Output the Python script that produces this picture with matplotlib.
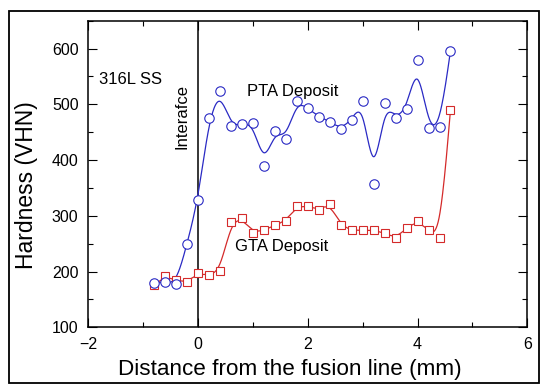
import numpy as np
import matplotlib
matplotlib.use("Agg")
import matplotlib.pyplot as plt
from matplotlib.patches import Rectangle
from matplotlib.ticker import MultipleLocator

plt.rcParams['font.family'] = ['Liberation Sans', 'DejaVu Sans']

# distance from fusion line (mm)
pta_x = [-0.8, -0.6, -0.4, -0.2, 0.0, 0.2, 0.4, 0.6, 0.8, 1.0, 1.2, 1.4, 1.6, 1.8,
         2.0, 2.2, 2.4, 2.6, 2.8, 3.0, 3.2, 3.4, 3.6, 3.8, 4.0, 4.2, 4.4, 4.6]
pta_hv = [180, 181, 178, 250, 328, 475, 524, 461, 464, 466, 390, 453, 438, 506,
          493, 478, 469, 456, 472, 506, 357, 502, 475, 491, 580, 457, 459, 596]

gta_x = [-0.8, -0.6, -0.4, -0.2, 0.0, 0.2, 0.4, 0.6, 0.8, 1.0, 1.2, 1.4, 1.6, 1.8,
         2.0, 2.2, 2.4, 2.6, 2.8, 3.0, 3.2, 3.4, 3.6, 3.8, 4.0, 4.2, 4.4, 4.6]
gta_hv = [175, 192, 184, 181, 197, 193, 201, 288, 296, 270, 274, 283, 291, 317,
          317, 311, 322, 283, 274, 274, 274, 269, 260, 278, 291, 274, 260, 490]

BLUE = '#2a2ac4'
RED = '#d42a2a'


def bspline(x, y, n=25):
    """Uniform cubic B-spline using the points as control points (clamped ends)."""
    px = np.r_[x[0], x[0], x, x[-1], x[-1]]
    py = np.r_[y[0], y[0], y, y[-1], y[-1]]
    t = np.linspace(0, 1, n)
    b0 = (1 - t) ** 3 / 6
    b1 = (3 * t ** 3 - 6 * t ** 2 + 4) / 6
    b2 = (-3 * t ** 3 + 3 * t ** 2 + 3 * t + 1) / 6
    b3 = t ** 3 / 6
    xs, ys = [], []
    for i in range(len(px) - 3):
        xs.append(b0 * px[i] + b1 * px[i + 1] + b2 * px[i + 2] + b3 * px[i + 3])
        ys.append(b0 * py[i] + b1 * py[i + 1] + b2 * py[i + 2] + b3 * py[i + 3])
    return np.concatenate(xs), np.concatenate(ys)


fig = plt.figure(figsize=(5.41, 3.85), dpi=100)
ax = fig.add_axes([0.1632, 0.1499, 0.8115, 0.7963])

ax.axvline(0, color='black', lw=1.1, zorder=1)

sx, sy = bspline(np.array(pta_x), np.array(pta_hv))
ax.plot(sx, sy, color=BLUE, lw=0.9, zorder=2)
ax.plot(pta_x, pta_hv, 'o', ms=6.8, mfc='white', mec=BLUE, mew=0.8, zorder=4)

sx, sy = bspline(np.array(gta_x), np.array(gta_hv))
ax.plot(sx, sy, color=RED, lw=0.9, zorder=2)
ax.plot(gta_x, gta_hv, 's', ms=6.0, mfc='white', mec=RED, mew=0.8, zorder=3)

ax.set_xlim(-2, 6)
ax.set_ylim(100, 650)
ax.set_xticks([-2, 0, 2, 4, 6])
ax.set_yticks([100, 200, 300, 400, 500, 600])
ax.xaxis.set_minor_locator(MultipleLocator(1))
ax.yaxis.set_minor_locator(MultipleLocator(50))
ax.tick_params(which='both', direction='in', top=True, right=True,
               labelsize=11.5, width=0.8, pad=7)
ax.tick_params(which='major', length=6.5)
ax.tick_params(which='minor', length=3.3)
for s in ax.spines.values():
    s.set_linewidth(1.1)

ax.set_xlabel('Distance from the fusion line (mm)', fontsize=16.2)
ax.xaxis.set_label_coords(0.458, -0.103)
ax.set_ylabel('Hardness (VHN)', fontsize=16.5)
ax.yaxis.set_label_coords(-0.114, 0.4625)

ax.text(-1.80, 544, '316L SS', fontsize=12, ha='left', va='center')
ax.text(-0.29, 479, 'Interafce', fontsize=12, rotation=90, ha='center', va='center')
ax.text(0.886, 523, 'PTA Deposit', fontsize=12, ha='left', va='center')
ax.text(0.673, 245, 'GTA Deposit', fontsize=12, ha='left', va='center')

# outer frame round the picture
fig.patches.append(Rectangle((9 / 541, 2 / 385), 530 / 541, 372 / 385,
                             transform=fig.transFigure, fill=False,
                             edgecolor='black', lw=1.3))

fig.savefig('out.png', dpi=100)
